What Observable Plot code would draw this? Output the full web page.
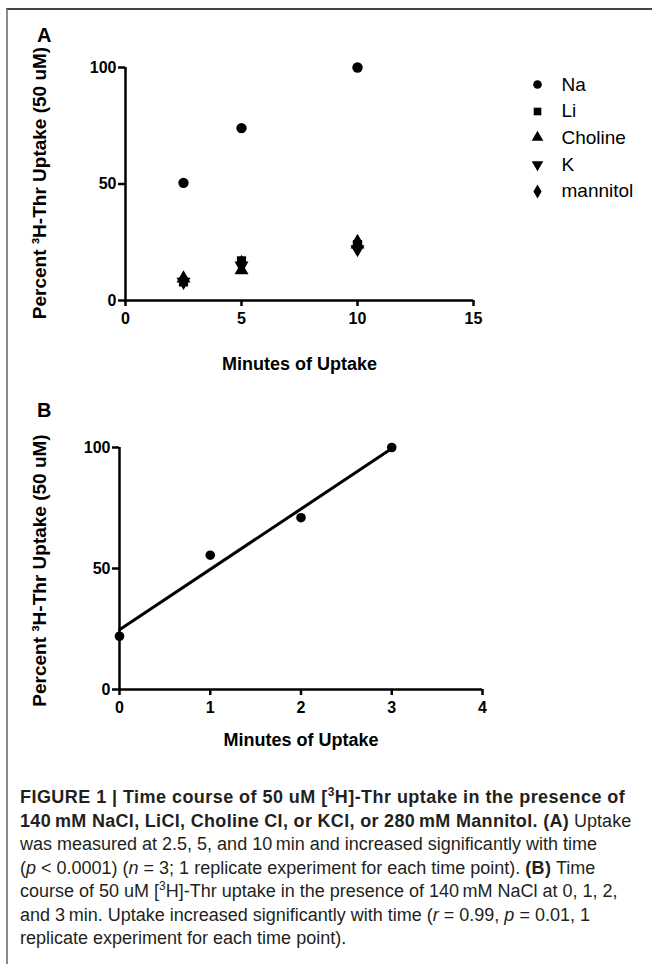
<!DOCTYPE html>
<html>
<head>
<meta charset="utf-8">
<script src="https://cdn.jsdelivr.net/npm/d3@7"></script>
<script src="https://cdn.jsdelivr.net/npm/@observablehq/plot@0.6"></script>
<style>
html,body{margin:0;padding:0;background:#fff;}
#page{position:relative;width:652px;height:964px;overflow:hidden;background:#fff;font-family:"Liberation Sans",Arial,Helvetica,sans-serif;color:#000;}
#border{position:absolute;left:6px;top:8px;width:700px;height:1000px;border-left:2px solid #8a8a8a;border-top:2px solid #444;pointer-events:none;z-index:5;}
.plot-abs{position:absolute;left:0;}
.panel-label{position:absolute;left:37px;font-weight:bold;font-size:20px;line-height:20px;color:#000;z-index:4;}
#legendA{position:absolute;left:529.5px;top:71.5px;z-index:3;}
#legendA .lg-swatches{font-family:"Liberation Sans",Arial,sans-serif;font-size:19px;margin:0;color:#000;}
#legendA .lg-swatch{height:26.6px;padding-bottom:0;}
#legendA .lg-swatch > svg{margin-right:17px;}
#caption{position:absolute;left:20px;top:786px;font-size:18px;line-height:23.5px;color:#231f20;white-space:nowrap;}
#caption sup{font-size:12px;line-height:0;vertical-align:7px;}
#caption .b{font-weight:bold;letter-spacing:0.45px;}
#caption .b2{font-weight:bold;letter-spacing:0.32px;}
</style>
</head>
<body>
<div id="page">
  <div id="plotA" class="plot-abs" style="top:0px"></div>
  <div id="legendA"></div>
  <div id="plotB" class="plot-abs" style="top:370px"></div>
  <div class="panel-label" style="top:25.4px">A</div>
  <div class="panel-label" style="top:400.4px">B</div>
  <div id="caption">
    <span class="b">FIGURE 1 | Time course of 50 uM [<sup>3</sup>H]-Thr uptake in the presence of</span><br>
    <span class="b2">140&thinsp;mM NaCl, LiCl, Choline Cl, or KCl, or 280&thinsp;mM Mannitol. (A)</span> Uptake<br>
    was measured at 2.5, 5, and 10&thinsp;min and increased significantly with time<br>
    (<i>p</i> &lt; 0.0001) (<i>n</i> = 3; 1 replicate experiment for each time point). <span class="b2">(B)</span> Time<br>
    course of 50 uM [<sup>3</sup>H]-Thr uptake in the presence of 140&thinsp;mM NaCl at 0, 1, 2,<br>
    and 3&thinsp;min. Uptake increased significantly with time (<i>r</i> = 0.99, <i>p</i> = 0.01, 1<br>
    replicate experiment for each time point).
  </div>
  <div id="border"></div>
</div>
<script>
// ---- Data ----
const seriesA = ["Na", "Li", "Choline", "K", "mannitol"];
const minutesA = [2.5, 5, 10];
const naA = [50.5, 74, 100];
const liA = [8, 17, 24];
const cholineA = [9.5, 13, 24];
const kA = [8, 15, 22];
const mannitolA = [8.5, 16, 25];

const minutesB = [0, 1, 2, 3];
const naB = [22, 55.5, 71, 100];

const ticksAx = [0, 5, 10, 15];
const ticksAy = [0, 50, 100];
const ticksBx = [0, 1, 2, 3, 4];
const ticksBy = [0, 50, 100];

const xLabel = "Minutes of Uptake";
const yLabel = "Percent \u00b3H-Thr Uptake (50 uM)";

// ---- Build tables ----
const valuesA = [naA, liA, cholineA, kA, mannitolA];
const rowsA = seriesA.flatMap((s, si) => minutesA.map((m, i) => ({series: s, minutes: m, value: valuesA[si][i]})));
const rowsB = minutesB.map((m, i) => ({minutes: m, value: naB[i]}));

const sqrt3 = Math.sqrt(3);
const triangleDown = {
  draw(context, size) {
    const y = -Math.sqrt(size / (sqrt3 * 3));
    context.moveTo(0, -y * 2);
    context.lineTo(-sqrt3 * y, y);
    context.lineTo(sqrt3 * y, y);
    context.closePath();
  }
};
const symbolRange = ["circle", "square", "triangle", triangleDown, "diamond"];

const font = "'Liberation Sans', Arial, Helvetica, sans-serif";
const svgStyle = {fontFamily: font, fontSize: "16px", fontWeight: "bold", color: "#000", background: "none", overflow: "visible"};
const fmt = d3.format("d");

const plotA = Plot.plot({
  width: 652, height: 380,
  marginLeft: 125, marginRight: 179, marginTop: 67, marginBottom: 80,
  style: svgStyle,
  x: {domain: [0, 15]},
  y: {domain: [0, 100]},
  symbol: {domain: seriesA, range: symbolRange},
  marks: [
    Plot.ruleX([0], {strokeWidth: 2.5}),
    Plot.ruleY([0], {strokeWidth: 2.5}),
    Plot.axisX({ticks: ticksAx, tickFormat: fmt, tickSize: 6, tickPadding: 6, strokeWidth: 2.5, label: null}),
    Plot.axisY({ticks: ticksAy, tickFormat: fmt, tickSize: 7, tickPadding: 2, strokeWidth: 2.5, label: null}),
    Plot.dot(rowsA, {x: "minutes", y: "value", symbol: "series", fill: "black", stroke: "none", r: 5.2}),
    Plot.text([yLabel], {text: d => d, frameAnchor: "left", textAnchor: "middle", rotate: -90, dx: -93, dy: -1, lineAnchor: "top", fontSize: 19, fontWeight: "bold"}),
    Plot.text([xLabel], {text: d => d, frameAnchor: "bottom", dy: 64, lineAnchor: "middle", fontSize: 18, fontWeight: "bold"})
  ]
});
document.getElementById("plotA").append(plotA);

const legendA = Plot.legend({
  symbol: {domain: seriesA, range: symbolRange},
  fill: "black", r: 4.6, columns: 1, className: "lg", swatchSize: 15
});
document.getElementById("legendA").append(legendA);

const plotB = Plot.plot({
  width: 652, height: 390,
  marginLeft: 119, marginRight: 170, marginTop: 77, marginBottom: 71,
  style: svgStyle,
  x: {domain: [0, 4]},
  y: {domain: [0, 100]},
  marks: [
    Plot.ruleX([0], {strokeWidth: 2.5}),
    Plot.ruleY([0], {strokeWidth: 2.5}),
    Plot.axisX({ticks: ticksBx, tickFormat: fmt, tickSize: 6, tickPadding: 6, strokeWidth: 2.5, label: null}),
    Plot.axisY({ticks: ticksBy, tickFormat: fmt, tickSize: 7, tickPadding: 2, strokeWidth: 2.5, label: null}),
    Plot.linearRegressionY(rowsB, {x: "minutes", y: "value", ci: 0, stroke: "black", strokeWidth: 3}),
    Plot.dot(rowsB, {x: "minutes", y: "value", r: 4.8, fill: "black", stroke: "none"}),
    Plot.text([yLabel], {text: d => d, frameAnchor: "left", textAnchor: "middle", rotate: -90, dx: -87, dy: 2, lineAnchor: "top", fontSize: 19, fontWeight: "bold"}),
    Plot.text([xLabel], {text: d => d, frameAnchor: "bottom", dy: 51, lineAnchor: "middle", fontSize: 18, fontWeight: "bold"})
  ]
});
document.getElementById("plotB").append(plotB);
</script>
</body>
</html>
